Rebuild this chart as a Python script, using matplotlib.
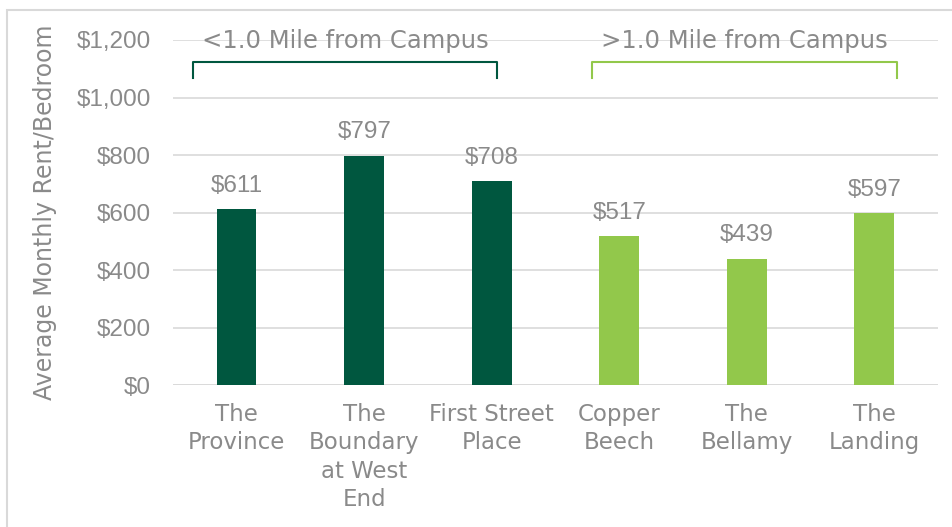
import matplotlib.pyplot as plt
from matplotlib.patches import Rectangle

properties = ['The\nProvince', 'The\nBoundary\nat West\nEnd', 'First Street\nPlace',
              'Copper\nBeech', 'The\nBellamy', 'The\nLanding']
rents = [611, 797, 708, 517, 439, 597]
groups = ['<1.0 Mile from Campus', '>1.0 Mile from Campus']
dark_green = '#00573f'
light_green = '#92c84b'
colors = [dark_green] * 3 + [light_green] * 3
gray = '#8a8a8a'
num_font = ['Liberation Sans', 'DejaVu Sans']

plt.rcParams['font.family'] = ['DejaVu Sans']

fig = plt.figure(figsize=(9.52, 5.27), dpi=100)
ax = fig.add_axes([0.1817, 0.2694, 0.8036, 0.6547])

# light frame round the chart
fig.patches.append(Rectangle((7 / 952, -0.1), 1.1, 1.1 - 10 / 527,
                             transform=fig.transFigure, fill=False,
                             edgecolor='#d9d9d9', linewidth=1.5))

x = range(len(properties))
ax.bar(x, rents, width=0.31, color=colors, zorder=3)
for i, v in enumerate(rents):
    ax.annotate('${:,}'.format(v), (i, v), xytext=(0, 9), textcoords='offset points',
                ha='center', va='bottom', fontsize=17.5, color=gray, family=num_font)

ax.set_ylim(0, 1200)
ax.set_xlim(-0.5, 5.5)
ax.set_yticks(range(0, 1201, 200))
ax.set_yticklabels(['${:,}'.format(t) for t in range(0, 1201, 200)],
                   fontsize=17.5, family=num_font)
ax.set_xticks(list(x))
ax.set_xticklabels(properties, linespacing=1.3, fontsize=16.5)
ax.tick_params(axis='both', length=0, labelcolor=gray)
ax.tick_params(axis='x', pad=13)
ax.tick_params(axis='y', pad=16)
ax.grid(axis='y', color='#d9d9d9', linewidth=1.2, zorder=0)
for s in ax.spines.values():
    s.set_visible(False)
ax.axhline(0, color='#d9d9d9', linewidth=1.8, zorder=2)
ax.set_ylabel('Average Monthly Rent/Bedroom', fontsize=17, color=gray, labelpad=14)

# group brackets
brackets = [(-0.34, 2.04, dark_green), (2.79, 5.18, light_green)]
for (x0, x1, c), g in zip(brackets, groups):
    ax.plot([x0, x0, x1, x1], [1068, 1125, 1125, 1068], color=c, linewidth=1.5,
            clip_on=False, zorder=4)
    ax.text((x0 + x1) / 2, 1198, g, ha='center', va='center', fontsize=17.5,
            color=gray, zorder=4)

fig.savefig('out.png', dpi=100)
